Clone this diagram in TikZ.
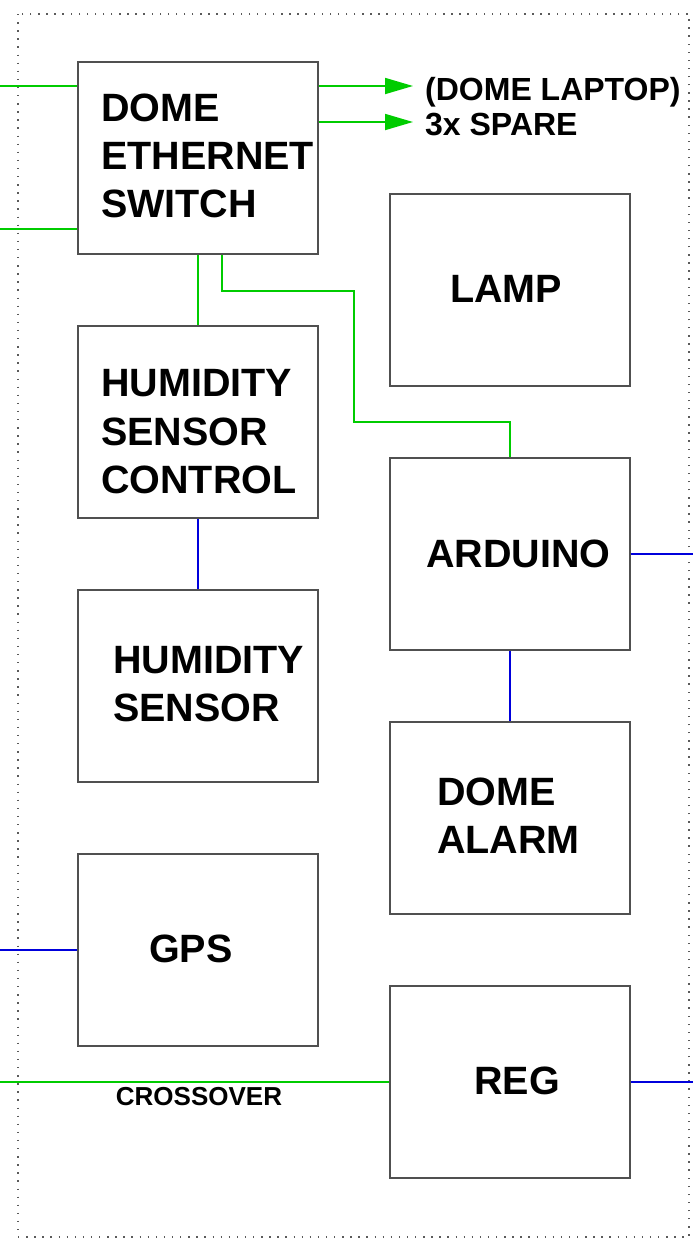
\documentclass[tikz,border=0pt]{standalone}
\usepackage{fontspec}
\setmainfont{Liberation Sans}
\usetikzlibrary{arrows.meta}
\definecolor{wgreen}{RGB}{0,204,0}
\definecolor{wblue}{RGB}{0,0,220}
\definecolor{boxgray}{RGB}{80,80,80}
\definecolor{dotgray}{RGB}{90,90,90}
\begin{document}
\begin{tikzpicture}[x=1pt,y=-1pt,
  box/.style={draw=boxgray, line width=1.3pt, minimum width=240pt, minimum height=192pt, inner sep=0pt, fill=white},
  lbl/.style={font=\fontsize{39.5}{48.3}\selectfont\bfseries, align=left, inner sep=0pt, anchor=west},
  lblone/.style={font=\fontsize{39.5}{48.3}\selectfont\bfseries, inner sep=0pt, anchor=base west},
  gline/.style={draw=wgreen, line width=1.8pt},
  bline/.style={draw=wblue, line width=1.8pt},
  garrow/.style={gline, -{Triangle[length=28pt,width=16pt]}},
  outlbl/.style={font=\fontsize{32}{36}\selectfont\bfseries, inner sep=0pt, anchor=base west},
  xlbl/.style={font=\fontsize{26}{30}\selectfont\bfseries, inner sep=0pt},
]
\useasboundingbox (0,0) rectangle (693,1240);
\draw[dotgray, line width=1.4pt, dash pattern=on 1.4pt off 6.7pt] (18,14) rectangle (689,1237);

% coordinates for free ends
\coordinate (swinA) at (0,86);
\coordinate (swinB) at (0,229);
\coordinate (lapt) at (413,86);
\coordinate (spt) at (413,122);
\coordinate (ardout) at (693,554);
\coordinate (gpsin) at (0,950);
\coordinate (xin) at (0,1082);
\coordinate (regout) at (693,1082);

% boxes
\node[box] (sw) at (198,158) {};
\node[box] (hsc) at (198,422) {};
\node[box] (hs) at (198,686) {};
\node[box] (gps) at (198,950) {};
\node[box] (lamp) at (510,290) {};
\node[box] (ard) at (510,554) {};
\node[box] (alarm) at (510,818) {};
\node[box] (reg) at (510,1082) {};

% connectors
\draw[gline] (swinA) -- (swinA -| sw.west);
\draw[gline] (swinB) -- (swinB -| sw.west);
\draw[garrow] (lapt -| sw.east) -- (lapt);
\draw[garrow] (spt -| sw.east) -- (spt);
\draw[gline] (sw.south) -- (hsc.north);
\draw[gline] ([xshift=24pt]sw.south) -- ++(0,36) -| (354,422) -| (ard.north);
\draw[bline] (hsc.south) -- (hs.north);
\draw[bline] (ard.south) -- (alarm.north);
\draw[bline] (ard.east) -- (ardout);
\draw[bline] (gpsin) -- (gps.west);
\draw[gline] (xin) -- (reg.west);
\draw[bline] (reg.east) -- (regout);

% labels
\node[lbl] (swt) at (101,155.7) {DOME\\ETHERNET\\SWITCH};
\node[lbl] (hsct) at (101,431.7) {HUMIDITY\\SENSOR\\CONTROL};
\node[lbl] (hst) at (113,684) {HUMIDITY\\SENSOR};
\node[lbl] (alt) at (437,816) {DOME\\ALARM};
\node[lblone] (lampt) at (450,302) {LAMP};
\node[lblone] (ardt) at (426,567) {ARDUINO};
\node[lblone] (gpst) at (149,962) {GPS};
\node[lblone] (regt) at (474,1094) {REG};
\node[outlbl] (laptxt) at (425,100) {(DOME LAPTOP)};
\node[outlbl] (sptxt) at (425,135) {3x SPARE};
\node[xlbl] (xo) at (199,1097) {CROSSOVER};
\end{tikzpicture}
\end{document}
